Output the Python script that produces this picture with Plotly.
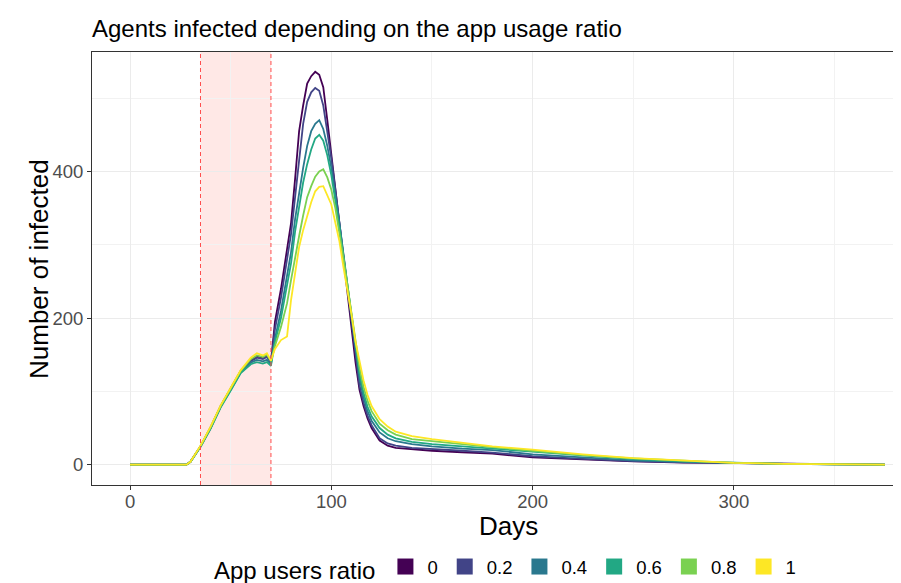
import plotly.graph_objects as go

# ---- data ----
days = [0, 28, 30, 35, 40, 45, 50, 55, 60, 63, 66, 68, 70, 72, 75, 78, 80, 82, 84, 86,
        88, 90, 92, 94, 96, 98, 100, 102, 104, 106, 108, 110, 112, 114, 116, 118, 120,
        124, 128, 132, 140, 150, 165, 180, 200, 225, 250, 275, 300, 325, 350, 375]

ratio_labels = ["0", "0.2", "0.4", "0.6", "0.8", "1"]
ratio_colors = ["#440154", "#414487", "#2A788E", "#22A884", "#7AD151", "#FDE725"]

infected_0 = [0, 0, 4, 25, 51, 80, 104, 128, 142, 148, 146, 149, 140, 195, 240, 295, 330, 390,
              455, 490, 520, 530, 536, 532, 515, 470, 425, 378, 330, 283, 235, 188, 140, 102,
              80, 63, 50, 33, 26, 23, 21, 19, 17, 15, 10, 7, 4.5, 3, 2, 1, 0.5, 0]
infected_02 = [0, 0, 4, 25, 50, 80, 103, 127, 141, 146, 144, 147, 139, 185, 228, 280, 315, 365,
               418, 465, 495, 508, 514, 510, 490, 455, 418, 375, 330, 285, 240, 193, 147, 108,
               85, 67, 54, 36, 29, 26, 23, 21, 19, 16.5, 11.5, 8, 5, 3.2, 2.1, 1.1, 0.5, 0]
infected_04 = [0, 0, 4, 25, 50, 79, 102, 126, 139, 143, 141, 143, 137, 172, 210, 260, 290, 335,
               372, 405, 435, 455, 465, 470, 458, 435, 405, 370, 330, 288, 245, 200, 155, 118,
               92, 73, 60, 44, 36, 32, 28, 25, 22, 20, 14, 10, 6, 3.8, 2.2, 1.1, 0.5, 0]
infected_06 = [0, 0, 4, 24, 49, 78, 101, 125, 137, 140, 138, 140, 135, 167, 200, 248, 275, 318,
               352, 385, 410, 430, 445, 450, 442, 422, 395, 362, 325, 285, 245, 202, 160, 125,
               98, 79, 66, 50, 41, 36, 31, 28, 25, 22, 17, 12, 7.5, 4.5, 2.4, 1.2, 0.5, 0]
infected_08 = [0, 0, 4, 25, 51, 80, 104, 128, 144, 149, 147, 150, 141, 162, 188, 220, 252, 285,
               312, 340, 365, 380, 393, 400, 403, 392, 375, 350, 318, 282, 245, 205, 165, 132,
               106, 87, 73, 56, 47, 41, 35, 32, 28, 24, 19, 13, 8.5, 5, 2.5, 1.2, 0.5, 0]
infected_1 = [0, 0, 4, 26, 52, 81, 105, 129, 146, 152, 149, 152, 142, 158, 170, 175, 225, 262,
              297, 320, 340, 358, 373, 379, 380, 368, 355, 330, 305, 270, 240, 205, 168, 140,
              115, 95, 80, 62, 52, 45, 39, 35, 30, 25, 20.5, 14, 9, 5.5, 2.5, 1.2, 0.5, 0]

series = [infected_0, infected_02, infected_04, infected_06, infected_08, infected_1]

intervention_start = 35
intervention_end = 70

x_ticks = [0, 100, 200, 300]
y_ticks = [0, 200, 400]

FONT = "Liberation Sans, Arial, Helvetica, sans-serif"

fig = go.Figure()

for lab, col, vals in zip(ratio_labels, ratio_colors, series):
    fig.add_trace(go.Scatter(x=days, y=vals, mode="lines", name=lab,
                             line=dict(color=col, width=1.8),
                             showlegend=False, hoverinfo="x+y+name"))

for lab, col in zip(ratio_labels, ratio_colors):
    fig.add_trace(go.Scatter(x=[None], y=[None], mode="markers", name=lab,
                             marker=dict(symbol="square", size=16, color=col),
                             showlegend=True))

# shaded intervention window
fig.add_shape(type="rect", xref="x", yref="paper",
              x0=intervention_start, x1=intervention_end, y0=0, y1=1,
              fillcolor="#FFE8E6", line=dict(width=0), layer="below")
for xv in (intervention_start, intervention_end):
    fig.add_shape(type="line", xref="x", yref="paper", x0=xv, x1=xv, y0=0, y1=1,
                  line=dict(color="#FF4D4D", width=1, dash="4px,3px"), layer="above")

grid_major = "#EBEBEB"
fig.update_xaxes(range=[-18.9, 387], tickvals=x_ticks, ticktext=[str(v) for v in x_ticks],
                 showgrid=True, gridcolor=grid_major, gridwidth=1.1,
                 minor=dict(dtick=50, tick0=50, showgrid=True, gridcolor="#F2F2F2",
                            gridwidth=0.6, ticks=""),
                 zeroline=False, showline=True, linecolor="#333333", linewidth=1,
                 mirror=True, ticks="outside", ticklen=4, tickcolor="#333333",
                 ticklabelstandoff=-4,
                 tickfont=dict(size=18.5, color="#4D4D4D", family=FONT))
fig.update_yaxes(range=[-27.7, 563], tickvals=y_ticks, ticktext=[str(v) for v in y_ticks],
                 showgrid=True, gridcolor=grid_major, gridwidth=1.1,
                 minor=dict(dtick=200, tick0=100, showgrid=True, gridcolor="#F2F2F2",
                            gridwidth=0.6, ticks=""),
                 zeroline=False, showline=True, linecolor="#333333", linewidth=1,
                 mirror=False, ticks="outside", ticklen=4, tickcolor="#333333",
                 tickfont=dict(size=18.5, color="#4D4D4D", family=FONT))

fig.update_layout(
    width=901, height=583,
    margin=dict(l=84, r=0, t=44, b=106),
    paper_bgcolor="white", plot_bgcolor="white",
    font=dict(family=FONT, color="black"),
    title=dict(text="Agents infected depending on the app usage ratio",
               font=dict(size=24, color="black", family=FONT),
               xref="paper", x=0, xanchor="left",
               yref="container", y=1 - 21 / 583, yanchor="middle"),
    legend=dict(orientation="h", x=(204 - 84) / 817, xanchor="left",
                y=(477 - 561) / 433, yanchor="middle",
                title=dict(text="App users ratio", font=dict(size=24, color="black", family=FONT),
                           side="left"),
                font=dict(size=18.5, color="black", family=FONT),
                itemwidth=34, tracegroupgap=0),
    annotations=[
        dict(text="Days", xref="paper", yref="paper", x=(500 - 84) / 817,
             y=(477 - 518) / 433, xanchor="center", yanchor="middle", showarrow=False,
             font=dict(size=26, color="black", family=FONT)),
        dict(text="Number of infected", xref="paper", yref="paper", x=(31 - 84) / 817,
             y=(477 - 261) / 433, xanchor="center", yanchor="middle", showarrow=False,
             textangle=-90, font=dict(size=26, color="black", family=FONT)),
    ],
)

fig.write_html("out.html")
